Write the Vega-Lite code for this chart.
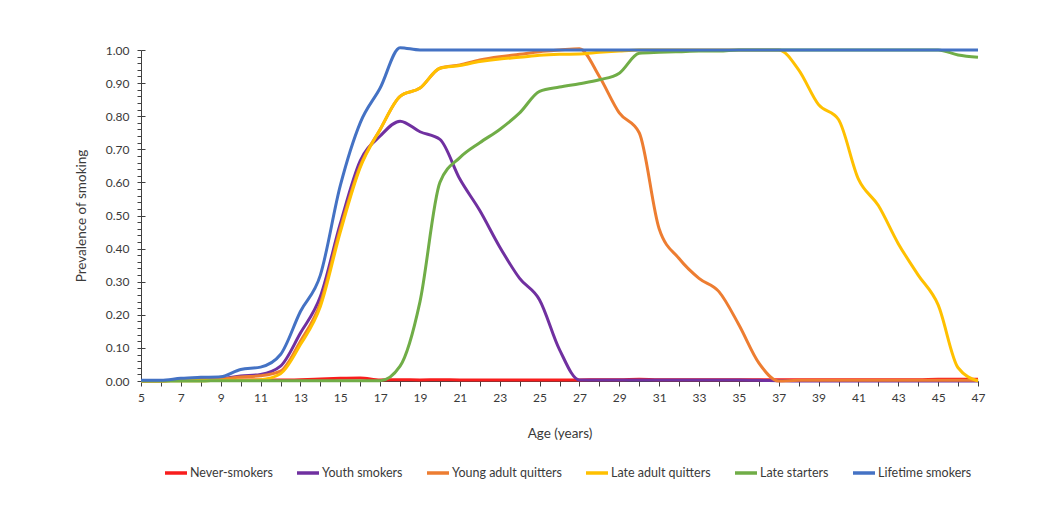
{
  "$schema": "https://vega.github.io/schema/vega-lite/v6.json",
  "width": 837,
  "height": 331,
  "autosize": {"type": "none"},
  "padding": {"left": 141, "top": 50, "right": 65, "bottom": 136},
  "background": "white",
  "config": {"view": {"stroke": null}, "font": "Lato"},
  "data": {
    "values": [
      {"age": 5, "Never-smokers": 0.001, "Youth smokers": 0.0, "Young adult quitters": 0.0, "Late adult quitters": 0.0, "Late starters": 0.0, "Lifetime smokers": 0.002},
      {"age": 6, "Never-smokers": 0.001, "Youth smokers": 0.001, "Young adult quitters": 0.001, "Late adult quitters": 0.0, "Late starters": 0.0, "Lifetime smokers": 0.002},
      {"age": 7, "Never-smokers": 0.002, "Youth smokers": 0.003, "Young adult quitters": 0.002, "Late adult quitters": 0.001, "Late starters": 0.0, "Lifetime smokers": 0.008},
      {"age": 8, "Never-smokers": 0.002, "Youth smokers": 0.005, "Young adult quitters": 0.004, "Late adult quitters": 0.001, "Late starters": 0.0, "Lifetime smokers": 0.011},
      {"age": 9, "Never-smokers": 0.002, "Youth smokers": 0.007, "Young adult quitters": 0.006, "Late adult quitters": 0.002, "Late starters": 0.001, "Lifetime smokers": 0.013},
      {"age": 10, "Never-smokers": 0.003, "Youth smokers": 0.015, "Young adult quitters": 0.012, "Late adult quitters": 0.002, "Late starters": 0.001, "Lifetime smokers": 0.035},
      {"age": 11, "Never-smokers": 0.003, "Youth smokers": 0.02, "Young adult quitters": 0.016, "Late adult quitters": 0.004, "Late starters": 0.001, "Lifetime smokers": 0.042},
      {"age": 12, "Never-smokers": 0.003, "Youth smokers": 0.045, "Young adult quitters": 0.03, "Late adult quitters": 0.022, "Late starters": 0.001, "Lifetime smokers": 0.08},
      {"age": 13, "Never-smokers": 0.004, "Youth smokers": 0.145, "Young adult quitters": 0.12, "Late adult quitters": 0.11, "Late starters": 0.001, "Lifetime smokers": 0.21},
      {"age": 14, "Never-smokers": 0.006, "Youth smokers": 0.255, "Young adult quitters": 0.235, "Late adult quitters": 0.225, "Late starters": 0.001, "Lifetime smokers": 0.32},
      {"age": 15, "Never-smokers": 0.008, "Youth smokers": 0.475, "Young adult quitters": 0.46, "Late adult quitters": 0.45, "Late starters": 0.001, "Lifetime smokers": 0.59},
      {"age": 16, "Never-smokers": 0.009, "Youth smokers": 0.665, "Young adult quitters": 0.65, "Late adult quitters": 0.645, "Late starters": 0.001, "Lifetime smokers": 0.78},
      {"age": 17, "Never-smokers": 0.003, "Youth smokers": 0.74, "Young adult quitters": 0.76, "Late adult quitters": 0.76, "Late starters": 0.001, "Lifetime smokers": 0.885},
      {"age": 18, "Never-smokers": 0.004, "Youth smokers": 0.785, "Young adult quitters": 0.86, "Late adult quitters": 0.86, "Late starters": 0.045, "Lifetime smokers": 1.007},
      {"age": 19, "Never-smokers": 0.003, "Youth smokers": 0.753, "Young adult quitters": 0.885, "Late adult quitters": 0.885, "Late starters": 0.24, "Lifetime smokers": 1.0},
      {"age": 20, "Never-smokers": 0.004, "Youth smokers": 0.73, "Young adult quitters": 0.945, "Late adult quitters": 0.945, "Late starters": 0.6, "Lifetime smokers": 1.0},
      {"age": 21, "Never-smokers": 0.003, "Youth smokers": 0.61, "Young adult quitters": 0.955, "Late adult quitters": 0.953, "Late starters": 0.675, "Lifetime smokers": 1.0},
      {"age": 22, "Never-smokers": 0.003, "Youth smokers": 0.515, "Young adult quitters": 0.97, "Late adult quitters": 0.965, "Late starters": 0.72, "Lifetime smokers": 1.0},
      {"age": 23, "Never-smokers": 0.003, "Youth smokers": 0.405, "Young adult quitters": 0.98, "Late adult quitters": 0.973, "Late starters": 0.76, "Lifetime smokers": 1.0},
      {"age": 24, "Never-smokers": 0.003, "Youth smokers": 0.31, "Young adult quitters": 0.987, "Late adult quitters": 0.978, "Late starters": 0.81, "Lifetime smokers": 1.0},
      {"age": 25, "Never-smokers": 0.003, "Youth smokers": 0.245, "Young adult quitters": 0.995, "Late adult quitters": 0.984, "Late starters": 0.875, "Lifetime smokers": 1.0},
      {"age": 26, "Never-smokers": 0.003, "Youth smokers": 0.095, "Young adult quitters": 1.0, "Late adult quitters": 0.987, "Late starters": 0.888, "Lifetime smokers": 1.0},
      {"age": 27, "Never-smokers": 0.003, "Youth smokers": 0.003, "Young adult quitters": 1.004, "Late adult quitters": 0.988, "Late starters": 0.898, "Lifetime smokers": 1.0},
      {"age": 28, "Never-smokers": 0.004, "Youth smokers": 0.003, "Young adult quitters": 0.92, "Late adult quitters": 0.993, "Late starters": 0.91, "Lifetime smokers": 1.0},
      {"age": 29, "Never-smokers": 0.004, "Youth smokers": 0.003, "Young adult quitters": 0.81, "Late adult quitters": 0.997, "Late starters": 0.93, "Lifetime smokers": 1.0},
      {"age": 30, "Never-smokers": 0.005, "Youth smokers": 0.003, "Young adult quitters": 0.75, "Late adult quitters": 1.0, "Late starters": 0.99, "Lifetime smokers": 1.0},
      {"age": 31, "Never-smokers": 0.004, "Youth smokers": 0.003, "Young adult quitters": 0.46, "Late adult quitters": 1.0, "Late starters": 0.993, "Lifetime smokers": 1.0},
      {"age": 32, "Never-smokers": 0.004, "Youth smokers": 0.003, "Young adult quitters": 0.37, "Late adult quitters": 1.0, "Late starters": 0.995, "Lifetime smokers": 1.0},
      {"age": 33, "Never-smokers": 0.004, "Youth smokers": 0.003, "Young adult quitters": 0.31, "Late adult quitters": 1.0, "Late starters": 0.997, "Lifetime smokers": 1.0},
      {"age": 34, "Never-smokers": 0.004, "Youth smokers": 0.003, "Young adult quitters": 0.27, "Late adult quitters": 1.0, "Late starters": 0.997, "Lifetime smokers": 1.0},
      {"age": 35, "Never-smokers": 0.004, "Youth smokers": 0.003, "Young adult quitters": 0.17, "Late adult quitters": 1.0, "Late starters": 1.0, "Lifetime smokers": 1.0},
      {"age": 36, "Never-smokers": 0.004, "Youth smokers": 0.002, "Young adult quitters": 0.055, "Late adult quitters": 1.0, "Late starters": 1.0, "Lifetime smokers": 1.0},
      {"age": 37, "Never-smokers": 0.004, "Youth smokers": 0.001, "Young adult quitters": 0.0, "Late adult quitters": 1.0, "Late starters": 1.0, "Lifetime smokers": 1.0},
      {"age": 38, "Never-smokers": 0.004, "Youth smokers": 0.0, "Young adult quitters": 0.002, "Late adult quitters": 0.94, "Late starters": 1.0, "Lifetime smokers": 1.0},
      {"age": 39, "Never-smokers": 0.004, "Youth smokers": 0.0, "Young adult quitters": 0.002, "Late adult quitters": 0.835, "Late starters": 1.0, "Lifetime smokers": 1.0},
      {"age": 40, "Never-smokers": 0.004, "Youth smokers": 0.0, "Young adult quitters": 0.002, "Late adult quitters": 0.79, "Late starters": 1.0, "Lifetime smokers": 1.0},
      {"age": 41, "Never-smokers": 0.004, "Youth smokers": 0.0, "Young adult quitters": 0.002, "Late adult quitters": 0.61, "Late starters": 1.0, "Lifetime smokers": 1.0},
      {"age": 42, "Never-smokers": 0.004, "Youth smokers": 0.0, "Young adult quitters": 0.002, "Late adult quitters": 0.53, "Late starters": 1.0, "Lifetime smokers": 1.0},
      {"age": 43, "Never-smokers": 0.004, "Youth smokers": 0.0, "Young adult quitters": 0.002, "Late adult quitters": 0.415, "Late starters": 1.0, "Lifetime smokers": 1.0},
      {"age": 44, "Never-smokers": 0.004, "Youth smokers": 0.0, "Young adult quitters": 0.002, "Late adult quitters": 0.32, "Late starters": 1.0, "Lifetime smokers": 1.0},
      {"age": 45, "Never-smokers": 0.005, "Youth smokers": 0.0, "Young adult quitters": 0.002, "Late adult quitters": 0.23, "Late starters": 1.0, "Lifetime smokers": 1.0},
      {"age": 46, "Never-smokers": 0.005, "Youth smokers": 0.0, "Young adult quitters": 0.002, "Late adult quitters": 0.04, "Late starters": 0.985, "Lifetime smokers": 1.0},
      {"age": 47, "Never-smokers": 0.005, "Youth smokers": 0.0, "Young adult quitters": 0.002, "Late adult quitters": 0.0, "Late starters": 0.978, "Lifetime smokers": 1.0}
    ]
  },
  "transform": [
    {"fold": ["Never-smokers", "Youth smokers", "Young adult quitters", "Late adult quitters", "Late starters", "Lifetime smokers"], "as": ["series", "value"]}
  ],
  "layer": [
    {
      "mark": {"type": "line", "interpolate": "monotone", "strokeWidth": 3, "clip": false},
      "encoding": {
        "x": {
          "field": "age", "type": "quantitative",
          "scale": {"domain": [5, 47], "nice": false, "zero": false},
          "axis": {
            "values": [5,6,7,8,9,10,11,12,13,14,15,16,17,18,19,20,21,22,23,24,25,26,27,28,29,30,31,32,33,34,35,36,37,38,39,40,41,42,43,44,45,46,47],
            "labelExpr": "datum.value % 2 == 1 ? datum.label : ''",
            "title": "Age (years)",
            "grid": false,
            "domainColor": "#404040", "tickColor": "#404040", "tickSize": 5,
            "labelFontSize": 12, "labelColor": "#3a3a3a", "labelPadding": 6, "labelFlush": false,
            "titleFontSize": 13.5, "titleFontWeight": "normal", "titleColor": "#3a3a3a", "titlePadding": 23
          }
        },
        "y": {
          "field": "value", "type": "quantitative",
          "scale": {"domain": [0, 1], "nice": false},
          "axis": {
            "values": [0,0.02,0.04,0.06,0.08,0.1,0.12,0.14,0.16,0.18,0.2,0.22,0.24,0.26,0.28,0.3,0.32,0.34,0.36,0.38,0.4,0.42,0.44,0.46,0.48,0.5,0.52,0.54,0.56,0.58,0.6,0.62,0.64,0.66,0.68,0.7,0.72,0.74,0.76,0.78,0.8,0.82,0.84,0.86,0.88,0.9,0.92,0.94,0.96,0.98,1],
            "format": ".2f",
            "labelExpr": "abs(datum.value * 10 - round(datum.value * 10)) < 0.01 ? datum.label : ''",
            "title": "Prevalence of smoking",
            "grid": false,
            "domainColor": "#404040", "tickColor": "#404040", "tickSize": 4,
            "labelFontSize": 12, "labelColor": "#3a3a3a", "labelPadding": 8,
            "titleFontSize": 13.5, "titleFontWeight": "normal", "titleColor": "#3a3a3a", "titlePadding": 17
          }
        },
        "color": {
          "field": "series", "type": "nominal",
          "scale": {
            "domain": ["Never-smokers", "Youth smokers", "Young adult quitters", "Late adult quitters", "Late starters", "Lifetime smokers"],
            "range": ["#F81D1D", "#7030A0", "#ED7D31", "#FFC000", "#70AD47", "#4472C4"]
          },
          "legend": {
            "title": null, "orient": "none", "direction": "horizontal",
            "legendX": 22, "legendY": 410,
            "symbolType": "stroke", "symbolSize": 484, "symbolStrokeWidth": 3.5,
            "labelFontSize": 12.5, "labelColor": "#3a3a3a", "labelOffset": 1,
            "columnPadding": 17
          }
        }
      }
    },
    {
      "mark": {"type": "rule", "opacity": 0},
      "encoding": {
        "y": {
          "field": "value", "type": "quantitative",
          "axis": {
            "orient": "left",
            "values": [0,0.1,0.2,0.3,0.4,0.5,0.6,0.7,0.8,0.9,1],
            "tickSize": -4, "tickColor": "#404040",
            "labels": false, "domain": false, "title": null, "grid": false
          }
        }
      }
    }
  ],
  "resolve": {"axis": {"y": "independent"}}
}
